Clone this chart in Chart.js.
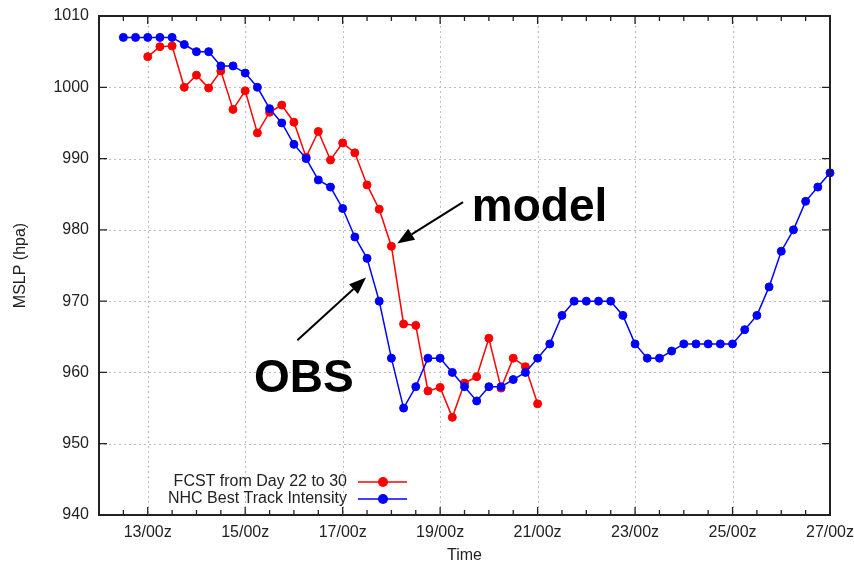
<!DOCTYPE html>
<html>
<head>
<meta charset="utf-8">
<script src="https://cdn.jsdelivr.net/npm/chart.js@4.4.1/dist/chart.umd.min.js"></script>
<style>
  html, body { margin: 0; padding: 0; background: #fff; }
</style>
</head>
<body>
<canvas id="myChart" width="854" height="562"></canvas>
<script>
// times are "day/hour z", 6-hourly
const obsTimes = [
    '12/12z', '12/18z',
    '13/00z', '13/06z', '13/12z', '13/18z',
    '14/00z', '14/06z', '14/12z', '14/18z',
    '15/00z', '15/06z', '15/12z', '15/18z',
    '16/00z', '16/06z', '16/12z', '16/18z',
    '17/00z', '17/06z', '17/12z', '17/18z',
    '18/00z', '18/06z', '18/12z', '18/18z',
    '19/00z', '19/06z', '19/12z', '19/18z',
    '20/00z', '20/06z', '20/12z', '20/18z',
    '21/00z', '21/06z', '21/12z', '21/18z',
    '22/00z', '22/06z', '22/12z', '22/18z',
    '23/00z', '23/06z', '23/12z', '23/18z',
    '24/00z', '24/06z', '24/12z', '24/18z',
    '25/00z', '25/06z', '25/12z', '25/18z',
    '26/00z', '26/06z', '26/12z', '26/18z',
    '27/00z'
];
const obsMslp = [
    1007, 1007,
    1007, 1007, 1007, 1006,
    1005, 1005, 1003, 1003,
    1002, 1000, 997, 995,
    992, 990, 987, 986,
    983, 979, 976, 970,
    962, 955, 958, 962,
    962, 960, 958, 956,
    958, 958, 959, 960,
    962, 964, 968, 970,
    970, 970, 970, 968,
    964, 962, 962, 963,
    964, 964, 964, 964,
    964, 966, 968, 972,
    977, 980, 984, 986,
    988
];

const fcstTimes = [
    '13/00z', '13/06z', '13/12z', '13/18z',
    '14/00z', '14/06z', '14/12z', '14/18z',
    '15/00z', '15/06z', '15/12z', '15/18z',
    '16/00z', '16/06z', '16/12z', '16/18z',
    '17/00z', '17/06z', '17/12z', '17/18z',
    '18/00z', '18/06z', '18/12z', '18/18z',
    '19/00z', '19/06z', '19/12z', '19/18z',
    '20/00z', '20/06z', '20/12z', '20/18z',
    '21/00z'
];
const fcstMslp = [
    1004.3, 1005.7, 1005.8, 1000.0,
    1001.7, 999.9, 1002.3, 996.9,
    999.5, 993.6, 996.5, 997.5,
    995.1, 990.2, 993.8, 989.8,
    992.2, 990.8, 986.3, 982.9,
    977.7, 966.8, 966.6, 957.4,
    957.9, 953.7, 958.5, 959.4,
    964.8, 957.8, 962.0, 960.8,
    955.6
];

const xTickLabels = ['13/00z', '15/00z', '17/00z', '19/00z', '21/00z', '23/00z', '25/00z', '27/00z'];
const yTicks = [940, 950, 960, 970, 980, 990, 1000, 1010];

const fcstLabel = 'FCST from Day 22 to 30';
const obsLabel = 'NHC Best Track Intensity';

const font = "'Liberation Sans', Arial, sans-serif";
const ink = '#222';

function toDay(t) {
    return parseInt(t.slice(0, 2)) + parseInt(t.slice(3, 5)) / 24;
}
function toPoints(times, values) {
    return times.map((t, i) => ({ x: toDay(t), y: values[i] }));
}

// arrows pointing at the curves, in data coordinates
const callouts = [
    { text: 'model', at: [19.65, 981.2], from: [19.47, 983.9], to: [18.12, 978.1] },
    { text: 'OBS', at: [15.18, 957.3], from: [16.07, 964.5], to: [17.48, 973.3] }
];

function drawArrow(ctx, x1, y1, x2, y2) {
    const ang = Math.atan2(y2 - y1, x2 - x1);
    const len = 17, half = 6.5;
    const bx = x2 - len * Math.cos(ang), by = y2 - len * Math.sin(ang);
    ctx.beginPath();
    ctx.moveTo(x1, y1);
    ctx.lineTo(bx, by);
    ctx.stroke();
    ctx.beginPath();
    ctx.moveTo(x2, y2);
    ctx.lineTo(bx + half * Math.sin(ang), by - half * Math.cos(ang));
    ctx.lineTo(bx - half * Math.sin(ang), by + half * Math.cos(ang));
    ctx.closePath();
    ctx.fill();
}

// dotted grid under the lines
const gridPlugin = {
    id: 'dottedGrid',
    beforeDatasetsDraw(chart) {
        const ctx = chart.ctx;
        const { left, right, top, bottom } = chart.chartArea;
        ctx.save();
        ctx.strokeStyle = '#bdbdbd';
        ctx.lineWidth = 1;
        ctx.setLineDash([2, 3]);
        for (const l of xTickLabels) {
            const px = Math.round(chart.scales.x.getPixelForValue(toDay(l))) + 0.5;
            ctx.beginPath();
            ctx.moveTo(px, top); ctx.lineTo(px, bottom);
            ctx.stroke();
        }
        for (const v of yTicks) {
            const py = Math.round(chart.scales.y.getPixelForValue(v)) + 0.5;
            ctx.beginPath();
            ctx.moveTo(left, py); ctx.lineTo(right, py);
            ctx.stroke();
        }
        ctx.restore();
    }
};

const framePlugin = {
    id: 'frame',
    afterDraw(chart) {
        const ctx = chart.ctx;
        const { left, right, top, bottom } = chart.chartArea;
        const xs = chart.scales.x, ys = chart.scales.y;
        ctx.save();

        // inward ticks, gnuplot style
        ctx.strokeStyle = ink;
        ctx.lineWidth = 1.3;
        const majors = xTickLabels.map(toDay);
        for (let d = 12.5; d < 27; d += 0.5) {
            const px = xs.getPixelForValue(d);
            const len = majors.includes(d) ? 8 : 5;
            ctx.beginPath();
            ctx.moveTo(px, bottom); ctx.lineTo(px, bottom - len);
            ctx.moveTo(px, top); ctx.lineTo(px, top + len);
            ctx.stroke();
        }
        for (const v of yTicks) {
            const py = ys.getPixelForValue(v);
            ctx.beginPath();
            ctx.moveTo(left, py); ctx.lineTo(left + 8, py);
            ctx.moveTo(right, py); ctx.lineTo(right - 8, py);
            ctx.stroke();
        }

        ctx.lineWidth = 2;
        ctx.strokeRect(left, top, right - left, bottom - top);

        // legend
        const rows = [
            { label: fcstLabel, color: chart.data.datasets[1].borderColor, y: 482 },
            { label: obsLabel, color: chart.data.datasets[0].borderColor, y: 499 }
        ];
        ctx.font = '16px ' + font;
        ctx.textAlign = 'right';
        ctx.textBaseline = 'middle';
        for (const r of rows) {
            ctx.fillStyle = ink;
            ctx.fillText(r.label, 347, r.y);
            ctx.strokeStyle = r.color;
            ctx.fillStyle = r.color;
            ctx.lineWidth = 1.5;
            ctx.beginPath();
            ctx.moveTo(358, r.y); ctx.lineTo(407, r.y);
            ctx.stroke();
            ctx.beginPath();
            ctx.arc(383, r.y, 5, 0, Math.PI * 2);
            ctx.fill();
        }

        // callouts
        ctx.fillStyle = '#000';
        ctx.strokeStyle = '#000';
        ctx.lineWidth = 2;
        ctx.font = 'bold 46px ' + font;
        ctx.textAlign = 'left';
        ctx.textBaseline = 'alphabetic';
        for (const c of callouts) {
            ctx.fillText(c.text, xs.getPixelForValue(c.at[0]), ys.getPixelForValue(c.at[1]));
            drawArrow(ctx,
                xs.getPixelForValue(c.from[0]), ys.getPixelForValue(c.from[1]),
                xs.getPixelForValue(c.to[0]), ys.getPixelForValue(c.to[1]));
        }
        ctx.restore();
    }
};

const ctx = document.getElementById('myChart').getContext('2d');
new Chart(ctx, {
    type: 'line',
    data: {
        datasets: [{
            label: obsLabel,
            data: toPoints(obsTimes, obsMslp),
            borderColor: '#0000ff',
            backgroundColor: '#0000ff',
            borderWidth: 1.5,
            pointRadius: 4,
            pointBorderWidth: 1,
            tension: 0,
            clip: false,
            order: 0
        }, {
            label: fcstLabel,
            data: toPoints(fcstTimes, fcstMslp),
            borderColor: '#ff0000',
            backgroundColor: '#ff0000',
            borderWidth: 1.5,
            pointRadius: 4,
            pointBorderWidth: 1,
            tension: 0,
            clip: false,
            order: 1
        }]
    },
    options: {
        responsive: false,
        animation: false,
        devicePixelRatio: 1,
        layout: { padding: { left: 0, right: 24, top: 16, bottom: 0 } },
        plugins: {
            legend: { display: false },
            tooltip: { enabled: false }
        },
        scales: {
            x: {
                type: 'linear',
                min: 12,
                max: 27,
                afterBuildTicks: s => { s.ticks = xTickLabels.map(l => ({ value: toDay(l) })); },
                afterFit: s => { s.height = 47; s.paddingLeft = 0; s.paddingRight = 0; },
                ticks: {
                    callback: (v, i) => xTickLabels[i],
                    autoSkip: false,
                    maxRotation: 0,
                    padding: 8,
                    color: ink,
                    font: { family: font, size: 16 }
                },
                grid: { display: false, drawTicks: false },
                border: { display: false },
                title: {
                    display: true,
                    text: 'Time',
                    color: ink,
                    font: { family: font, size: 16, lineHeight: 0.8 },
                    padding: { top: 0, bottom: 0 }
                }
            },
            y: {
                min: 940,
                max: 1010,
                afterBuildTicks: s => { s.ticks = yTicks.map(v => ({ value: v })); },
                afterFit: s => { s.width = 99; s.paddingTop = 0; s.paddingBottom = 0; },
                ticks: {
                    callback: v => String(v),
                    padding: 10,
                    color: ink,
                    font: { family: font, size: 16 }
                },
                grid: { display: false, drawTicks: false },
                border: { display: false },
                title: {
                    display: true,
                    text: 'MSLP (hpa)',
                    color: ink,
                    font: { family: font, size: 16, lineHeight: 1 },
                    padding: { top: 13, bottom: 0 }
                }
            }
        }
    },
    plugins: [gridPlugin, framePlugin]
});
</script>
</body>
</html>
